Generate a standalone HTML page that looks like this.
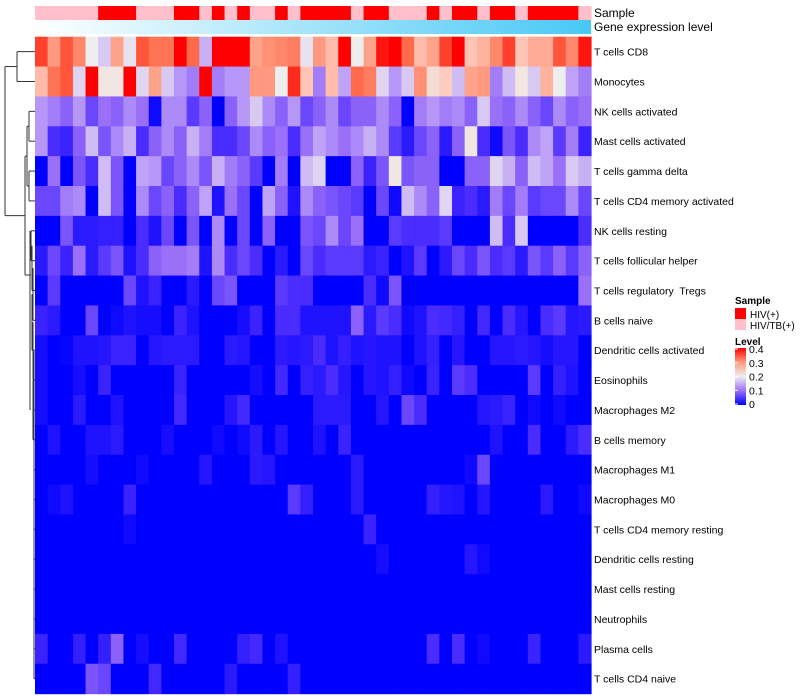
<!DOCTYPE html>
<html><head><meta charset="utf-8">
<style>
body{margin:0;background:#fff;}
svg{display:block;font-family:"Liberation Sans",Arial,sans-serif;}
svg text{white-space:pre;}
</style></head>
<body>
<svg id="chart" width="800" height="700" viewBox="0 0 800 700">
<defs>
<linearGradient id="geneGrad" x1="0" x2="1" y1="0" y2="0">
<stop offset="0" stop-color="#ffffff"/><stop offset="1" stop-color="#48c8f5"/>
</linearGradient>
<linearGradient id="levelGrad" x1="0" x2="0" y1="1" y2="0">
<stop offset="0" stop-color="#0000ff"/><stop offset="0.25" stop-color="#9a70f8"/><stop offset="0.5" stop-color="#eeeeee"/><stop offset="0.75" stop-color="#ff9a80"/><stop offset="1" stop-color="#ff0000"/>
</linearGradient>
</defs>
<g id="dendro" stroke="#333" stroke-width="1" fill="none"></g>
<g id="cells"></g>
<g id="sampleBar"></g>
<rect x="35" y="20" width="556" height="14" fill="url(#geneGrad)"/>
<text x="594" y="17" font-size="12" fill="#000">Sample</text>
<text x="594" y="31" font-size="12" fill="#000">Gene expression level</text>
<g id="rowLabels"></g>
<g>
<text x="735" y="304" font-size="10" font-weight="bold">Sample</text>
<rect x="735" y="308" width="11" height="11" fill="#ff0000"/>
<text x="750" y="318" font-size="10">HIV(+)</text>
<rect x="735" y="319" width="11" height="11" fill="#ffc0cb"/>
<text x="750" y="329" font-size="10">HIV/TB(+)</text>
<text x="735" y="345" font-size="10" font-weight="bold">Level</text>
<rect x="735" y="348" width="11" height="57" fill="url(#levelGrad)"/>
<g id="levelTicks"></g>
</g>
</svg>
<script>
const rowLabels = ["T cells CD8","Monocytes","NK cells activated","Mast cells activated","T cells gamma delta","T cells CD4 memory activated","NK cells resting","T cells follicular helper","T cells regulatory  Tregs","B cells naive","Dendritic cells activated","Eosinophils","Macrophages M2","B cells memory","Macrophages M1","Macrophages M0","T cells CD4 memory resting","Dendritic cells resting","Mast cells resting","Neutrophils","Plasma cells","T cells CD4 naive"];
// 1 = HIV(+), 0 = HIV/TB(+)
const sampleGroups = [0,0,0,0,0,1,1,1,0,0,0,1,1,0,1,0,1,0,0,1,0,1,1,1,1,0,1,1,0,0,0,1,0,1,1,0,1,1,0,1,1,1,1,0];
const levelTickLabels = ["0.4","0.3","0.2","0.1","0"];
const levelTickValues = [0.4,0.3,0.2,0.1,0];

const tCellsCD8 = [.37,.30,.36,.32,.20,.17,.29,.19,.36,.34,.34,.42,.35,.15,.42,.42,.42,.29,.31,.32,.33,.19,.30,.26,.42,.20,.29,.39,.42,.35,.26,.29,.37,.42,.25,.27,.32,.37,.25,.28,.28,.36,.32,.39];
const monocytes = [.26,.34,.36,.18,.42,.21,.21,.42,.18,.29,.17,.13,.11,.42,.11,.13,.13,.30,.30,.20,.38,.25,.11,.26,.14,.35,.33,.18,.13,.17,.31,.22,.24,.16,.29,.30,.11,.16,.21,.17,.27,.20,.14,.11];
const nkActivated = [.13,.11,.09,.13,.07,.10,.09,.12,.10,.01,.12,.12,.06,.09,0,.09,.13,.17,.12,.09,.13,.07,.09,.12,.07,.09,.09,.12,.09,0,.11,.13,.11,.12,.09,.17,.10,.09,.12,.09,.07,.12,.09,.10];
const mastActivated = [.13,.05,.04,.09,.16,.08,.12,.15,.05,.09,.12,.09,.15,.11,.05,.05,.07,.12,.09,.10,.05,.10,.14,.12,.10,.12,.15,.12,.06,.03,.07,.09,.03,.09,.21,.05,.01,.08,.05,.12,.14,.06,.11,.04];
const gammaDelta = [0,.10,0,.08,.05,.16,.08,0,.14,.13,.07,.09,.12,.08,.15,.11,.09,.06,0,.11,0,.16,.18,0,0,.09,.04,.08,.21,.08,.09,.09,0,0,.09,.09,.18,.15,.09,.16,.14,.10,.17,.15];
const cd4MemActivated = [.07,.07,.11,.12,0,.16,.08,0,.12,.07,.09,.05,.09,.14,.02,.10,.07,0,.14,.09,.02,.12,.09,.08,.07,.06,0,.07,.01,.16,.12,.09,.18,.04,.05,.03,.11,.07,.11,.06,.07,.07,.12,.07];
const nkResting = [0,0,.08,.03,.03,.035,.035,0,.05,.02,.07,0,.08,0,.12,0,.07,0,.09,0,0,.08,.07,.12,.07,.10,0,0,.06,.05,.05,.05,.06,0,0,0,.16,.05,.17,0,0,0,0,.05];
const follicularHelper = [.03,.07,.04,.10,.03,.06,.08,.02,.05,.09,.10,.10,.11,.02,.12,.05,.07,.05,0,.03,0,.07,.05,.06,.06,.06,.03,.04,0,.02,.06,0,.03,.07,.05,.08,.05,.06,.03,.08,.06,.09,.06,.09];
const tregs = [0,.06,0,0,0,0,0,.07,.02,.04,0,0,.03,0,.07,.08,0,0,0,.06,.05,.05,0,0,0,0,.05,.01,.08,0,0,0,0,0,0,0,0,0,0,0,0,0,0,.10];
const bNaive = [.04,.03,0,0,.07,0,.01,.02,.015,.015,0,.04,.02,0,0,0,.015,.04,0,.05,.05,.02,.02,.02,.02,.09,.03,.06,.05,.01,.02,.05,.045,.035,0,.045,0,.05,.025,0,.05,.06,.025,.03];
const dcActivated = [.015,0,.005,.02,.02,.025,.04,.04,0,.025,.03,.03,.03,0,0,.03,.025,0,0,.03,.025,.03,.05,.02,.035,.02,.025,.02,.02,0,.02,.035,0,.025,0,0,.025,.025,.03,.025,.015,.025,.025,0];
const eosinophils = [.015,0,0,.015,0,.04,0,0,0,0,0,.04,0,0,0,0,0,.015,0,.045,0,.035,.03,.05,.025,0,.025,.02,.035,.01,0,.04,0,.06,.05,0,0,0,0,.06,0,.035,.02,0];
const macroM2 = [.015,0,0,.03,0,0,.02,0,0,0,0,.045,0,0,0,.025,.045,0,0,0,0,0,.03,.03,.03,0,0,.025,0,.07,.05,0,0,0,0,.025,.03,.04,0,.01,0,.01,0,0];
const bMemory = [0,.02,0,0,.02,.02,.03,0,0,0,.015,0,0,0,.01,0,.01,.03,0,.025,0,0,.02,0,.04,0,0,0,0,0,0,0,0,0,0,0,.02,0,0,.05,0,0,.03,.05];
const macroM1 = [0,0,0,0,.015,0,0,0,.01,0,0,0,0,.025,0,0,0,.03,.025,0,0,0,0,0,0,.03,0,0,0,0,0,0,0,0,.01,.07,0,0,0,0,0,0,0,0];
const macroM0 = [0,.01,.02,0,0,0,0,.04,0,0,0,0,0,0,0,0,0,0,0,0,.06,.035,0,0,0,.03,0,0,0,0,0,.035,.025,.02,0,.025,0,0,0,0,.03,0,0,.01];
const cd4MemResting = [0,0,0,0,0,0,0,.01,0,0,0,0,0,0,0,0,0,0,0,0,0,0,0,0,0,0,.04,0,0,0,0,0,0,0,0,0,0,0,0,0,0,0,0,0];
const dcResting = [0,0,0,0,0,0,0,0,0,0,0,0,0,0,0,0,0,0,0,0,0,0,0,0,0,0,0,.015,0,0,0,0,0,0,.025,.01,0,0,0,0,0,0,0,0];
const mastResting = [0,0,0,0,0,0,0,0,0,0,0,0,0,0,0,0,0,0,0,0,0,0,0,0,0,0,0,0,0,0,0,0,0,0,0,0,0,0,0,0,0,0,0,0];
const neutrophils = [0,0,0,0,0,0,0,0,0,0,0,0,0,0,0,0,0,0,0,0,0,0,0,0,0,0,0,0,0,0,0,0,0,0,0,0,0,0,0,0,0,0,0,0];
const plasmaCells = [.04,0,0,.035,0,.035,.09,0,.015,0,0,.045,0,0,0,0,.035,.045,0,.02,0,0,0,0,0,0,0,0,0,0,0,.05,0,.05,0,.01,0,0,0,.04,0,0,0,.03];
const cd4Naive = [0,0,0,0,.08,.07,0,0,0,.045,0,0,0,0,0,.03,0,0,0,0,.035,0,0,0,0,0,0,0,0,0,0,0,0,0,0,0,0,0,0,0,0,0,0,0];

const levelRows = [tCellsCD8,monocytes,nkActivated,mastActivated,gammaDelta,cd4MemActivated,nkResting,follicularHelper,tregs,bNaive,dcActivated,eosinophils,macroM2,bMemory,macroM1,macroM0,cd4MemResting,dcResting,mastResting,neutrophils,plasmaCells,cd4Naive];

const NS = "http://www.w3.org/2000/svg";
const X0 = 35, X1 = 591, Y0 = 36.7, Y1 = 693.6;
const nCols = sampleGroups.length, nRows = rowLabels.length;
const cw = (X1 - X0) / nCols, rh = (Y1 - Y0) / nRows;
const xPos = c => X0 + c * cw;
const yPos = r => Y0 + r * rh;
const yMid = r => Y0 + (r + 0.5) * rh;

const stops = [[0,[0,0,255]],[0.05,[74,44,255]],[0.1,[154,112,248]],[0.15,[200,176,245]],[0.2,[238,238,238]],[0.25,[255,196,180]],[0.3,[255,154,128]],[0.35,[255,106,74]],[0.4,[255,0,0]]];
function color(v){
  v = Math.max(0, Math.min(0.4, v));
  for (let i = 1; i < stops.length; i++) {
    if (v <= stops[i][0]) {
      const a = stops[i-1], b = stops[i], t = (v - a[0]) / (b[0] - a[0]);
      const c = a[1].map((x, k) => Math.round(x + (b[1][k] - x) * t));
      return `rgb(${c[0]},${c[1]},${c[2]})`;
    }
  }
  return "rgb(255,0,0)";
}
function mk(tag, attrs, parent){
  const e = document.createElementNS(NS, tag);
  for (const k in attrs) e.setAttribute(k, attrs[k]);
  parent.appendChild(e);
  return e;
}

const cells = document.getElementById("cells");
levelRows.forEach((row, r) => {
  row.forEach((v, c) => {
    const el = mk("rect", {x: xPos(c), y: yPos(r), width: cw + 0.6, height: rh + 0.6, fill: color(v)}, cells);
    
    
  });
});

const sb = document.getElementById("sampleBar");
sampleGroups.forEach((g, c) => {
  const el = mk("rect", {x: xPos(c), y: 6, width: cw + 0.6, height: 14, fill: g ? "#ff0000" : "#ffc0cb"}, sb);
  
  
});

const rl = document.getElementById("rowLabels");
rowLabels.forEach((t, r) => {
  const el = mk("text", {x: 594, y: yMid(r) + 4, "font-size": 10.5, fill: "#000"}, rl);
  el.textContent = t;
  
  
});

const lt = document.getElementById("levelTicks");
levelTickValues.forEach((v, i) => {
  const y = 404 - (v / 0.4) * 55;
  const ln = mk("line", {x1: 735, x2: 738, y1: y, y2: y, stroke: "#fff", "stroke-width": 1}, lt);
  
  
  const tx = mk("text", {x: 749, y: y + 4, "font-size": 10.5}, lt);
  tx.textContent = levelTickLabels[i];
  
  
});

// dendrogram (approximate structure)
const dg = document.getElementById("dendro");
function seg(x1, y1, x2, y2){
  const el = mk("line", {x1, y1, x2, y2}, dg);
  
  
}
function joinRows(a, b, x){ seg(x, yMid(a), x, yMid(b)); seg(x, yMid(a), X0, yMid(a)); seg(x, yMid(b), X0, yMid(b)); return (yMid(a) + yMid(b)) / 2; }
const topY = joinRows(0, 1, 17);
const aY = joinRows(2, 3, 29);
const bY = joinRows(4, 5, 29);
seg(27, aY, 27, bY); seg(27, aY, 29, aY); seg(27, bY, 29, bY);
const abY = (aY + bY) / 2;
let prevY = yMid(6);
seg(31, yMid(6), X0, yMid(6));
const xs = [31,32,33,32,33,34,33,34,34,34,34,34,34,34,34];
for (let r = 7; r < nRows; r++) {
  const x = xs[r - 7];
  seg(x, yMid(r), X0, yMid(r));
  seg(x, prevY, x, yMid(r));
  prevY = (prevY + yMid(r)) / 2;
}
const cY = 275;
seg(30, yMid(6), 30, yMid(12)); seg(30, cY, 31, cY);
seg(25, abY, 25, cY); seg(25, abY, 27, abY); seg(25, cY, 30, cY);
const botY = (abY + cY) / 2;
seg(5, topY, 5, botY); seg(5, topY, 17, topY); seg(5, botY, 25, botY);
</script>
</body></html>
